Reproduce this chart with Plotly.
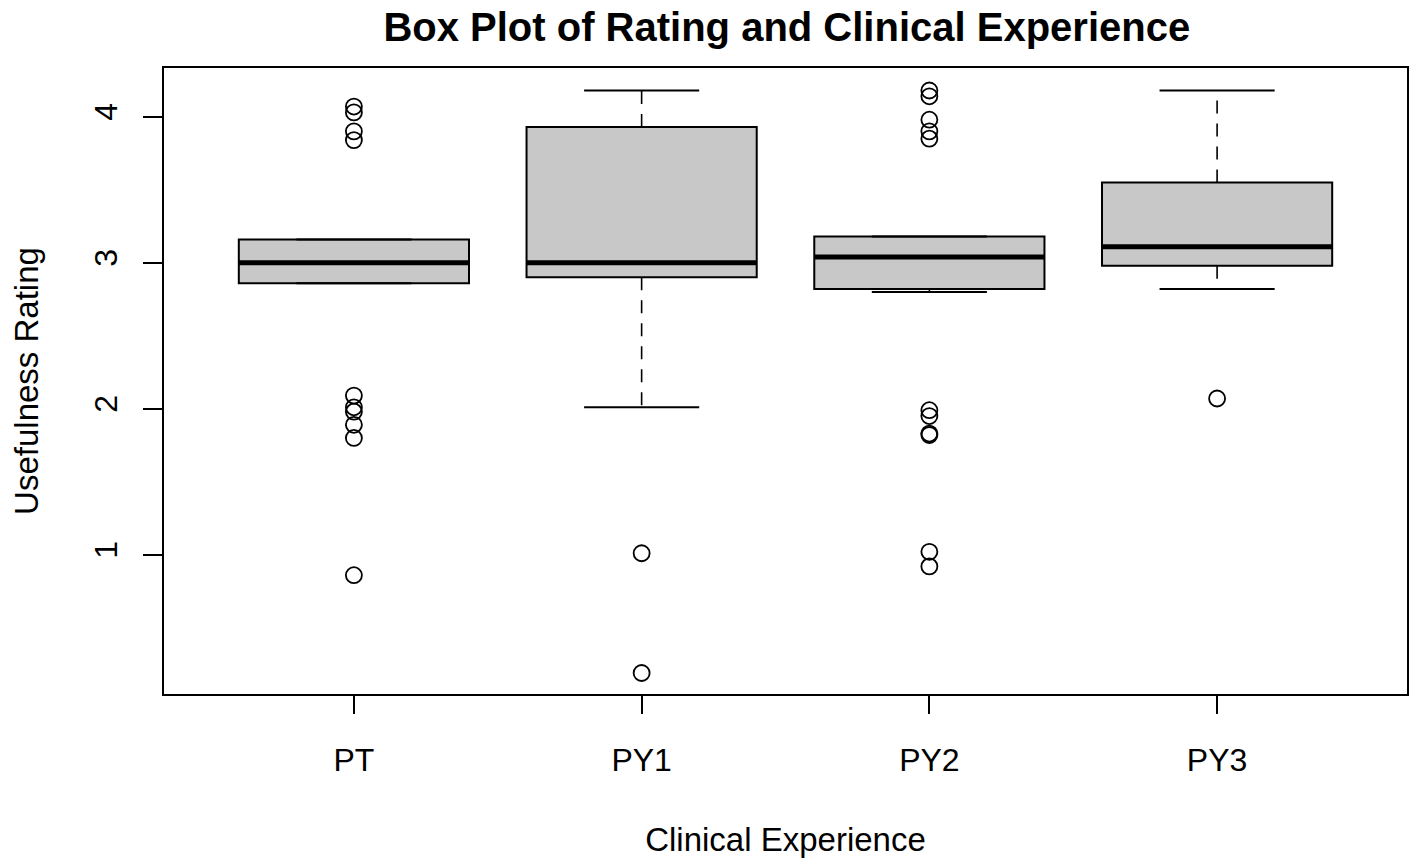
import plotly.graph_objects as go

# categories and box statistics
groups = ["PT", "PY1", "PY2", "PY3"]
lower_whisker = [2.86, 2.01, 2.80, 2.82]
q1 = [2.86, 2.90, 2.82, 2.98]
median = [3.00, 3.00, 3.04, 3.11]
q3 = [3.16, 3.93, 3.18, 3.55]
upper_whisker = [3.16, 4.18, 3.18, 4.18]

# outliers per group
out_pt = [4.07, 4.03, 3.90, 3.84, 2.09, 2.01, 1.98, 1.89, 1.80, 0.86]
out_py1 = [1.01, 0.19]
out_py2 = [4.18, 4.14, 3.98, 3.90, 3.85, 1.99, 1.95, 1.83, 1.82, 1.02, 0.92]
out_py3 = [2.07]
outliers = [out_pt, out_py1, out_py2, out_py3]

pos = [i + 1 for i in range(len(groups))]
box_w = 0.8
cap_w = 0.4
font = "Liberation Sans, Arial, sans-serif"


def segments(x0s, x1s, y0s, y1s):
    xs, ys = [], []
    for a, b, c, d in zip(x0s, x1s, y0s, y1s):
        xs += [a, b, None]
        ys += [c, d, None]
    return xs, ys


fig = go.Figure()

# boxes
fig.add_trace(go.Bar(
    x=pos, y=[b - a for a, b in zip(q1, q3)], base=q1, width=box_w,
    marker=dict(color="#c8c8c8", line=dict(color="black", width=2)),
    hoverinfo="skip"))

# whiskers (dashed)
wx, wy = segments(pos + pos, pos + pos, q3 + q1, upper_whisker + lower_whisker)
fig.add_trace(go.Scatter(x=wx, y=wy, mode="lines",
                         line=dict(color="black", width=1.6, dash="13px,10px")))

# caps
left = [p - cap_w / 2 for p in pos]
right = [p + cap_w / 2 for p in pos]
cx, cy = segments(left + left, right + right, upper_whisker + lower_whisker,
                  upper_whisker + lower_whisker)
fig.add_trace(go.Scatter(x=cx, y=cy, mode="lines", line=dict(color="black", width=2)))

# medians
mx, my = segments([p - box_w / 2 for p in pos], [p + box_w / 2 for p in pos], median, median)
fig.add_trace(go.Scatter(x=mx, y=my, mode="lines", line=dict(color="black", width=5)))

# outliers
ox, oy = [], []
for p, vals in zip(pos, outliers):
    ox += [p] * len(vals)
    oy += vals
fig.add_trace(go.Scatter(x=ox, y=oy, mode="markers",
                         marker=dict(symbol="circle-open", size=16, color="black",
                                     line=dict(width=1.8))))

# page body adds 8px margin on each side, so keep the figure inside the window
fig.update_layout(
    width=1402, height=852,
    margin=dict(l=156, r=1, t=60, b=166),
    paper_bgcolor="white", plot_bgcolor="white",
    showlegend=False,
    font=dict(family=font, color="black"),
    title=dict(text="<b>Box Plot of Rating and Clinical Experience</b>",
               x=0.5555, xanchor="center", y=1, yanchor="top", yref="container",
               pad=dict(t=5),
               font=dict(size=40, family=font)),
)
fig.update_xaxes(
    range=[0.34, 4.66], tickvals=pos, ticktext=groups,
    showline=True, linecolor="black", linewidth=2, mirror=True,
    ticks="outside", ticklen=18, tickwidth=1.6, tickcolor="black",
    ticklabelstandoff=19, tickfont=dict(size=32),
    showgrid=False, zeroline=False,
    title=dict(text="Clinical Experience", font=dict(size=33), standoff=50),
)
fig.update_yaxes(
    range=[0.046, 4.334], tickvals=[1, 2, 3, 4],
    showline=True, linecolor="black", linewidth=2, mirror=True,
    ticks="outside", ticklen=19, tickwidth=1.6, tickcolor="black",
    tickangle=-90, ticklabelstandoff=13, tickfont=dict(size=32),
    showgrid=False, zeroline=False,
    title=dict(text="Usefulness Rating", font=dict(size=33), standoff=56),
)

fig.write_html("out.html")
